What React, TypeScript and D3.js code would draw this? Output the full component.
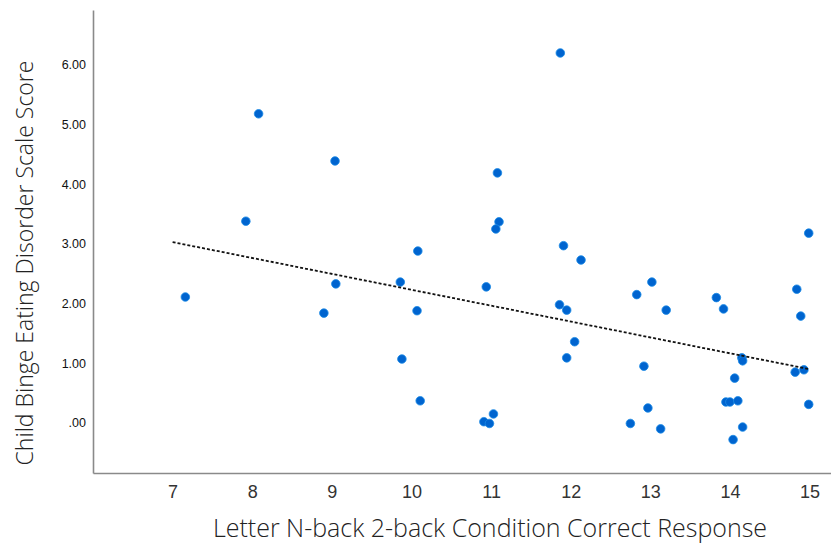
import React, { useEffect, useRef } from 'react';
import * as d3 from 'd3';

// letter n-back 2-back correct responses (jittered as in the source plot)
const nbackCorrect = [
  7.16, 7.92, 8.08, 8.9, 9.04, 9.05, 9.86, 9.88, 10.08, 10.07, 10.11, 10.94,
  11.08, 11.1, 11.06, 11.03, 10.91, 10.98, 11.87, 11.91, 12.13, 11.86, 11.95,
  12.05, 11.95, 12.83, 13.02, 13.2, 12.92, 12.97, 12.75, 13.13, 13.83, 13.92,
  14.15, 14.16, 14.06, 13.95, 14.0, 14.1, 14.16, 14.04, 14.84, 14.99, 14.89,
  14.82, 14.93, 14.99,
];
// child binge eating disorder scale score
const bingeScore = [
  2.11, 3.38, 5.18, 1.84, 4.39, 2.33, 2.36, 1.07, 2.88, 1.88, 0.37, 2.28,
  4.19, 3.37, 3.25, 0.15, 0.02, -0.01, 6.2, 2.97, 2.73, 1.98, 1.89,
  1.36, 1.09, 2.15, 2.36, 1.89, 0.95, 0.25, -0.01, -0.1, 2.1, 1.91,
  1.09, 1.04, 0.75, 0.35, 0.35, 0.37, -0.07, -0.28, 2.24, 3.18, 1.79,
  0.85, 0.89, 0.31,
];

// fit line ends
const fitX = [7, 15];
const fitY = [3.03, 0.9];

const xTicks = [7, 8, 9, 10, 11, 12, 13, 14, 15];
const yTicks = [0, 1, 2, 3, 4, 5, 6];

const width = 831;
const height = 545;

export default function App() {
  const ref = useRef<SVGSVGElement>(null);

  useEffect(() => {
    const svg = d3.select(ref.current);
    svg.selectAll('*').remove();

    const x = d3.scaleLinear().domain([6.0, 15.27]).range([93, 831]);
    const y = d3.scaleLinear().domain([-0.84, 6.92]).range([473, 10]);

    // axes (no tick marks, just the lines and labels)
    const xAxis = svg
      .append('g')
      .attr('transform', `translate(0,${y(-0.84)})`)
      .call(d3.axisBottom(x).tickValues(xTicks).tickSize(0).tickPadding(12).tickFormat(d3.format('d')));
    xAxis.select('.domain').attr('stroke', '#8a8a8a').attr('stroke-width', 1.6);
    xAxis
      .selectAll('text')
      .attr('font-family', 'Liberation Sans, Arial, sans-serif')
      .attr('font-size', 18)
      .attr('fill', '#333');

    const yAxis = svg
      .append('g')
      .attr('transform', `translate(${x(6.0)},0)`)
      .call(
        d3
          .axisLeft(y)
          .tickValues(yTicks)
          .tickSize(0)
          .tickPadding(7)
          .tickFormat((d) => (d === 0 ? '.00' : d3.format('.2f')(d as number)))
      );
    yAxis.select('.domain').attr('stroke', '#8a8a8a').attr('stroke-width', 1.6);
    yAxis
      .selectAll('text')
      .attr('font-family', 'Liberation Sans, Arial, sans-serif')
      .attr('font-size', 12.5)
      .attr('fill', '#111');

    const pts = nbackCorrect.map((v, i) => [v, bingeScore[i]]);

    svg
      .append('g')
      .selectAll('circle')
      .data(pts)
      .enter()
      .append('circle')
      .attr('cx', (d) => x(d[0]))
      .attr('cy', (d) => y(d[1]))
      .attr('r', 4.3)
      .attr('fill', '#0064cf')
      .attr('stroke', '#1a8ae6')
      .attr('stroke-width', 0.8);

    const line = d3
      .line<number>()
      .x((d) => x(d))
      .y((_, i) => y(fitY[i]));

    svg
      .append('path')
      .attr('d', line(fitX))
      .attr('fill', 'none')
      .attr('stroke', '#111')
      .attr('stroke-width', 1.8)
      .attr('stroke-dasharray', '3,2');

    svg
      .append('text')
      .attr('x', 490)
      .attr('y', 537)
      .attr('text-anchor', 'middle')
      .attr('font-family', 'Open Sans, sans-serif')
      .attr('font-weight', 300)
      .attr('font-size', 25)
      .attr('fill', '#222')
      .text('Letter N-back 2-back Condition Correct Response');

    svg
      .append('text')
      .attr('transform', `translate(33,263) rotate(-90)`)
      .attr('text-anchor', 'middle')
      .attr('font-family', 'Open Sans, sans-serif')
      .attr('font-weight', 300)
      .attr('font-size', 23)
      .attr('fill', '#222')
      .text('Child Binge Eating Disorder Scale Score');
  }, []);

  return (
    <svg
      ref={ref}
      width={width}
      height={height}
      style={{ position: 'absolute', left: 0, top: 0, background: '#fff' }}
    />
  );
}
